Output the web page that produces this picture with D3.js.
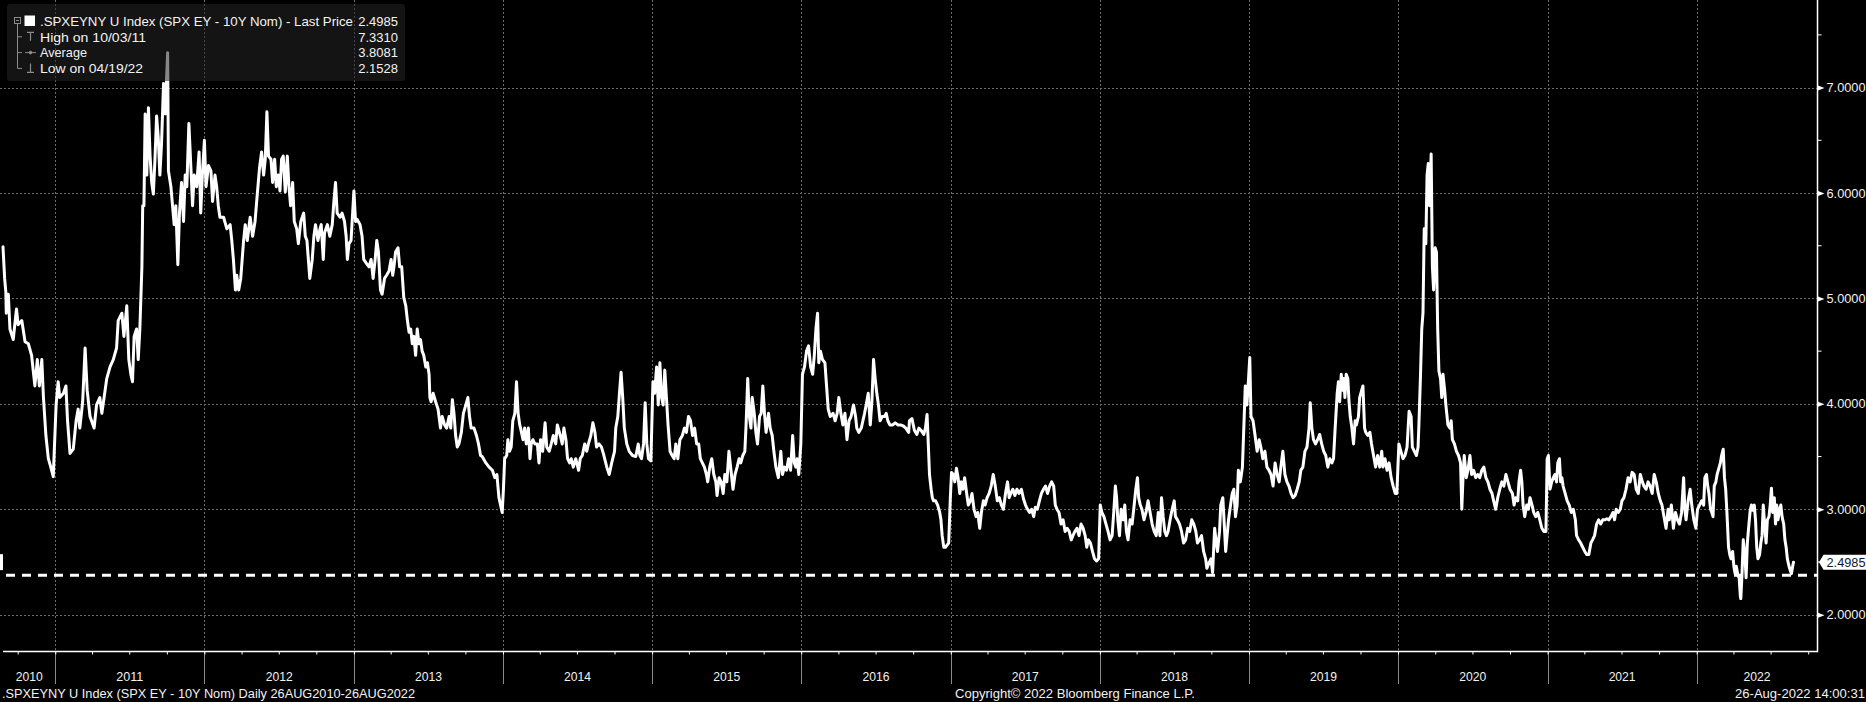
<!DOCTYPE html>
<html><head><meta charset="utf-8">
<script src="https://cdn.jsdelivr.net/npm/d3@7"></script>
<style>html,body{margin:0;padding:0;background:#000;overflow:hidden}svg{display:block}</style>
</head><body><svg id="c" width="1866" height="702"></svg>
<script>
const dates = [
"2010-08-26","2010-08-30","2010-09-02","2010-09-03","2010-09-08","2010-09-12","2010-09-20","2010-09-28","2010-10-02","2010-10-11","2010-10-19","2010-10-27","2010-11-04","2010-11-12","2010-11-18","2010-11-23","2010-11-29","2010-12-03","2010-12-09","2010-12-15","2010-12-21","2010-12-27",
"2011-01-03","2011-01-08","2011-01-12","2011-01-21","2011-01-27","2011-01-31","2011-02-06","2011-02-14","2011-02-21","2011-02-26","2011-03-02","2011-03-09","2011-03-15","2011-03-20","2011-03-27","2011-04-06","2011-04-12","2011-04-20","2011-04-25","2011-05-03","2011-05-07","2011-05-15","2011-05-23","2011-05-31","2011-06-04","2011-06-13","2011-06-18","2011-06-25","2011-06-30","2011-07-05","2011-07-09","2011-07-13","2011-07-19","2011-07-23","2011-07-27","2011-08-01","2011-08-03","2011-08-06","2011-08-09","2011-08-13","2011-08-17","2011-08-21","2011-08-25","2011-08-29","2011-09-02","2011-09-06","2011-09-10","2011-09-14","2011-09-18","2011-09-23","2011-09-27","2011-10-03","2011-10-05","2011-10-11","2011-10-15","2011-10-19","2011-10-23","2011-10-28","2011-11-01","2011-11-06","2011-11-11","2011-11-15","2011-11-19","2011-11-24","2011-11-29","2011-12-03","2011-12-07","2011-12-13","2011-12-19","2011-12-23","2011-12-27",
"2012-01-01","2012-01-05","2012-01-11","2012-01-17","2012-01-21","2012-01-27","2012-01-31","2012-02-04","2012-02-08","2012-02-17","2012-02-25","2012-03-04","2012-03-08","2012-03-12","2012-03-17","2012-03-20","2012-03-25","2012-03-30","2012-04-06","2012-04-10","2012-04-15","2012-04-22","2012-04-28","2012-05-04","2012-05-08","2012-05-15","2012-05-20","2012-05-25","2012-05-29","2012-06-02","2012-06-06","2012-06-12","2012-06-16","2012-06-21","2012-06-25","2012-06-30","2012-07-04","2012-07-08","2012-07-12","2012-07-17","2012-07-22","2012-07-26","2012-07-30","2012-08-04","2012-08-08","2012-08-14","2012-08-18","2012-08-24","2012-08-31","2012-09-04","2012-09-08","2012-09-15","2012-09-21","2012-09-25","2012-09-29","2012-10-05","2012-10-10","2012-10-13","2012-10-18","2012-10-21","2012-10-28","2012-11-03","2012-11-09","2012-11-13","2012-11-17","2012-11-21","2012-11-28","2012-12-03","2012-12-09","2012-12-13","2012-12-16","2012-12-20","2012-12-25",
"2013-01-01","2013-01-05","2013-01-09","2013-01-16","2013-01-21","2013-01-25","2013-02-01","2013-02-07","2013-02-12","2013-02-17","2013-02-22","2013-02-26","2013-03-02","2013-03-07","2013-03-11","2013-03-17","2013-03-22","2013-03-28","2013-04-02","2013-04-06","2013-04-09","2013-04-13","2013-04-19","2013-04-23","2013-04-28","2013-05-03","2013-05-08","2013-05-12","2013-05-16","2013-05-20","2013-05-24","2013-05-28","2013-06-01","2013-06-05","2013-06-09","2013-06-13","2013-06-17","2013-06-21","2013-06-26","2013-06-30","2013-07-04","2013-07-06","2013-07-09","2013-07-14","2013-07-20","2013-07-26","2013-08-01","2013-08-05","2013-08-11","2013-08-16","2013-08-22","2013-08-26","2013-08-30","2013-09-03","2013-09-07","2013-09-11","2013-09-15","2013-09-21","2013-09-26","2013-10-02","2013-10-07","2013-10-11","2013-10-15","2013-10-22","2013-10-28","2013-11-02","2013-11-07","2013-11-11","2013-11-20","2013-11-28","2013-12-06","2013-12-12","2013-12-17","2013-12-22","2013-12-26","2013-12-30",
"2014-01-02","2014-01-05","2014-01-10","2014-01-13","2014-01-17","2014-01-21","2014-01-25","2014-01-30","2014-02-03","2014-02-07","2014-02-11","2014-02-13","2014-02-19","2014-02-23","2014-02-27","2014-03-04","2014-03-08","2014-03-11","2014-03-15","2014-03-20","2014-03-26","2014-03-30","2014-04-03","2014-04-08","2014-04-14","2014-04-18","2014-04-24","2014-04-29","2014-05-04","2014-05-10","2014-05-14","2014-05-21","2014-05-26","2014-05-30","2014-06-04","2014-06-08","2014-06-13","2014-06-17","2014-06-22","2014-06-28","2014-07-05","2014-07-09","2014-07-14","2014-07-20","2014-07-25","2014-07-29","2014-08-04","2014-08-09","2014-08-14","2014-08-18","2014-08-24","2014-08-30","2014-09-05","2014-09-12","2014-09-18","2014-09-24","2014-10-01","2014-10-04","2014-10-09","2014-10-13","2014-10-17","2014-10-21","2014-10-25","2014-10-31","2014-11-06","2014-11-14","2014-11-22","2014-11-28","2014-12-02","2014-12-06","2014-12-11","2014-12-15","2014-12-19","2014-12-23","2014-12-29",
"2015-01-03","2015-01-07","2015-01-12","2015-01-16","2015-01-20","2015-01-24","2015-01-28","2015-02-01","2015-02-05","2015-02-09","2015-02-14","2015-02-19","2015-02-24","2015-02-28","2015-03-05","2015-03-10","2015-03-16","2015-03-21","2015-03-26","2015-03-31","2015-04-05","2015-04-10","2015-04-15","2015-04-20","2015-04-25","2015-04-29","2015-05-04","2015-05-09","2015-05-14","2015-05-17","2015-05-22","2015-05-27","2015-06-01","2015-06-06","2015-06-09","2015-06-14","2015-06-19","2015-06-24","2015-06-28","2015-07-03","2015-07-08","2015-07-13","2015-07-18","2015-07-23","2015-07-28","2015-08-02","2015-08-06","2015-08-11","2015-08-16","2015-08-19","2015-08-23","2015-08-27","2015-08-31","2015-09-03","2015-09-08","2015-09-12","2015-09-16","2015-09-21","2015-09-25","2015-09-29","2015-10-03","2015-10-07","2015-10-13","2015-10-17","2015-10-22","2015-10-26","2015-10-31","2015-11-06","2015-11-12","2015-11-16","2015-11-21","2015-11-26","2015-12-01","2015-12-06","2015-12-11","2015-12-15","2015-12-19","2015-12-22","2015-12-26","2015-12-31",
"2016-01-04","2016-01-09","2016-01-14","2016-01-19","2016-01-24","2016-01-29","2016-02-02","2016-02-06","2016-02-10","2016-02-13","2016-02-17","2016-02-22","2016-02-28","2016-03-03","2016-03-07","2016-03-12","2016-03-19","2016-03-24","2016-03-29","2016-04-02","2016-04-07","2016-04-12","2016-04-17","2016-04-22","2016-04-27","2016-05-02","2016-05-08","2016-05-13","2016-05-16","2016-05-21","2016-05-27","2016-05-31","2016-06-04","2016-06-08","2016-06-13","2016-06-18","2016-06-22","2016-06-26","2016-06-30","2016-07-04","2016-07-08","2016-07-12","2016-07-17","2016-07-23","2016-07-27","2016-07-31","2016-08-05","2016-08-12","2016-08-18","2016-08-25","2016-08-31","2016-09-07","2016-09-13","2016-09-20","2016-09-22","2016-09-28","2016-10-04","2016-10-10","2016-10-15","2016-10-20","2016-10-27","2016-10-31","2016-11-04","2016-11-07","2016-11-10","2016-11-14","2016-11-17","2016-11-20","2016-11-25","2016-11-30","2016-12-05","2016-12-08","2016-12-11","2016-12-15","2016-12-19","2016-12-23","2016-12-27","2016-12-31",
"2017-01-03","2017-01-07","2017-01-11","2017-01-15","2017-01-19","2017-01-23","2017-01-27","2017-01-31","2017-02-04","2017-02-09","2017-02-13","2017-02-18","2017-02-22","2017-02-27","2017-03-04","2017-03-08","2017-03-13","2017-03-17","2017-03-22","2017-03-26","2017-03-31","2017-04-05","2017-04-10","2017-04-15","2017-04-20","2017-04-25","2017-04-30","2017-05-05","2017-05-10","2017-05-15","2017-05-20","2017-05-24","2017-05-28","2017-06-02","2017-06-07","2017-06-12","2017-06-17","2017-06-23","2017-06-28","2017-07-03","2017-07-08","2017-07-13","2017-07-18","2017-07-23","2017-07-27","2017-08-01","2017-08-06","2017-08-11","2017-08-16","2017-08-21","2017-08-26","2017-08-31","2017-09-05","2017-09-10","2017-09-14","2017-09-18","2017-09-23","2017-09-28","2017-10-03","2017-10-08","2017-10-13","2017-10-18","2017-10-23","2017-10-27","2017-11-01","2017-11-06","2017-11-11","2017-11-16","2017-11-21","2017-11-26","2017-11-30","2017-12-04","2017-12-09","2017-12-14","2017-12-19","2017-12-24","2017-12-29",
"2018-01-02","2018-01-06","2018-01-11","2018-01-16","2018-01-21","2018-01-26","2018-01-31","2018-02-04","2018-02-08","2018-02-11","2018-02-14","2018-02-18","2018-02-22","2018-02-27","2018-03-03","2018-03-07","2018-03-11","2018-03-16","2018-03-21","2018-03-26","2018-03-30","2018-04-03","2018-04-06","2018-04-10","2018-04-14","2018-04-19","2018-04-24","2018-04-29","2018-05-04","2018-05-09","2018-05-14","2018-05-19","2018-05-24","2018-05-28","2018-06-01","2018-06-05","2018-06-09","2018-06-13","2018-06-17","2018-06-22","2018-06-27","2018-07-02","2018-07-05","2018-07-10","2018-07-15","2018-07-20","2018-07-25","2018-07-30","2018-08-04","2018-08-09","2018-08-14","2018-08-19","2018-08-24","2018-08-28","2018-09-02","2018-09-07","2018-09-12","2018-09-17","2018-09-20","2018-09-25","2018-09-30","2018-10-04","2018-10-09","2018-10-11","2018-10-16","2018-10-21","2018-10-24","2018-10-29","2018-11-01","2018-11-05","2018-11-12","2018-11-17","2018-11-21","2018-11-25","2018-11-29","2018-12-03","2018-12-06","2018-12-11","2018-12-16","2018-12-19","2018-12-23","2018-12-27","2018-12-31",
"2019-01-03","2019-01-06","2019-01-11","2019-01-16","2019-01-21","2019-01-26","2019-01-30","2019-02-04","2019-02-09","2019-02-14","2019-02-19","2019-02-24","2019-03-01","2019-03-06","2019-03-11","2019-03-16","2019-03-20","2019-03-25","2019-03-30","2019-04-04","2019-04-09","2019-04-14","2019-04-19","2019-04-24","2019-04-29","2019-05-04","2019-05-08","2019-05-13","2019-05-18","2019-05-23","2019-05-28","2019-05-31","2019-06-04","2019-06-08","2019-06-13","2019-06-18","2019-06-23","2019-06-28","2019-07-03","2019-07-08","2019-07-13","2019-07-18","2019-07-23","2019-07-27","2019-07-31","2019-08-05","2019-08-08","2019-08-11","2019-08-15","2019-08-18","2019-08-21","2019-08-24","2019-08-27","2019-08-31","2019-09-03","2019-09-06","2019-09-10","2019-09-14","2019-09-18","2019-09-21","2019-09-26","2019-09-29","2019-10-04","2019-10-07","2019-10-11","2019-10-14","2019-10-19","2019-10-24","2019-10-28","2019-11-02","2019-11-07","2019-11-12","2019-11-17","2019-11-22","2019-11-25","2019-11-30","2019-12-05","2019-12-10","2019-12-15","2019-12-20","2019-12-25","2019-12-29",
"2020-01-03","2020-01-08","2020-01-13","2020-01-18","2020-01-23","2020-01-28","2020-02-02","2020-02-05","2020-02-10","2020-02-15","2020-02-19","2020-02-21","2020-02-25","2020-02-28","2020-03-02","2020-03-05","2020-03-09","2020-03-12","2020-03-15","2020-03-18","2020-03-22","2020-03-25","2020-03-28","2020-04-01","2020-04-04","2020-04-07","2020-04-10","2020-04-14","2020-04-17","2020-04-20","2020-04-24","2020-04-27","2020-05-02","2020-05-07","2020-05-10","2020-05-13","2020-05-18","2020-05-23","2020-05-28","2020-06-02","2020-06-05","2020-06-08","2020-06-11","2020-06-16","2020-06-20","2020-06-25","2020-06-29","2020-07-04","2020-07-09","2020-07-14","2020-07-19","2020-07-24","2020-07-29","2020-08-03","2020-08-08","2020-08-13","2020-08-18","2020-08-22","2020-08-27","2020-09-01","2020-09-06","2020-09-11","2020-09-16","2020-09-21","2020-09-26","2020-10-01","2020-10-07","2020-10-11","2020-10-15","2020-10-20","2020-10-23","2020-10-27","2020-10-30","2020-11-02","2020-11-06","2020-11-11","2020-11-15","2020-11-19","2020-11-24","2020-11-28","2020-12-03","2020-12-08","2020-12-13","2020-12-18","2020-12-23","2020-12-28","2020-12-31",
"2021-01-03","2021-01-07","2021-01-11","2021-01-15","2021-01-19","2021-01-23","2021-01-26","2021-01-30","2021-02-02","2021-02-05","2021-02-08","2021-02-13","2021-02-18","2021-02-23","2021-02-28","2021-03-05","2021-03-10","2021-03-13","2021-03-18","2021-03-23","2021-03-28","2021-04-02","2021-04-07","2021-04-12","2021-04-17","2021-04-21","2021-04-26","2021-05-01","2021-05-06","2021-05-11","2021-05-16","2021-05-21","2021-05-26","2021-05-31","2021-06-05","2021-06-10","2021-06-14","2021-06-18","2021-06-23","2021-06-28","2021-07-02","2021-07-07","2021-07-12","2021-07-17","2021-07-22","2021-07-27","2021-08-01","2021-08-06","2021-08-11","2021-08-16","2021-08-21","2021-08-25","2021-08-30","2021-09-04","2021-09-09","2021-09-14","2021-09-19","2021-09-24","2021-09-29","2021-10-04","2021-10-08","2021-10-13","2021-10-18","2021-10-23","2021-10-26","2021-10-31","2021-11-05","2021-11-10","2021-11-15","2021-11-20","2021-11-25","2021-11-30","2021-12-03","2021-12-06","2021-12-11","2021-12-16","2021-12-20","2021-12-25","2021-12-30",
"2022-01-03","2022-01-08","2022-01-13","2022-01-18","2022-01-21","2022-01-25","2022-01-28","2022-01-31","2022-02-04","2022-02-07","2022-02-10","2022-02-13","2022-02-17","2022-02-20","2022-02-25","2022-02-28","2022-03-03","2022-03-07","2022-03-10","2022-03-13","2022-03-16","2022-03-20","2022-03-23","2022-03-26","2022-03-30","2022-04-02","2022-04-05","2022-04-08","2022-04-12","2022-04-15","2022-04-18","2022-04-19","2022-04-22","2022-04-25","2022-04-29","2022-05-02","2022-05-05","2022-05-08","2022-05-12","2022-05-15","2022-05-18","2022-05-22","2022-05-25","2022-05-28","2022-05-31","2022-06-04","2022-06-07","2022-06-10","2022-06-13","2022-06-17","2022-06-20","2022-06-23","2022-06-27","2022-06-30","2022-07-03","2022-07-06","2022-07-10","2022-07-13","2022-07-16","2022-07-19","2022-07-23","2022-07-26","2022-07-29","2022-08-02","2022-08-05","2022-08-08","2022-08-11","2022-08-15","2022-08-18","2022-08-21","2022-08-24","2022-08-26"
];
const values = [
5.49,5.19,5.06,4.86,5.04,4.71,4.61,4.90,4.75,4.79,4.59,4.57,4.46,4.17,4.42,4.17,4.42,4.06,3.70,3.48,3.40,3.31,
3.99,4.21,4.06,4.10,4.17,3.84,3.53,3.57,3.84,3.95,3.77,4.02,4.53,4.13,3.88,3.77,3.99,4.06,3.91,4.13,4.24,4.35,4.42,4.53,4.79,4.86,4.64,4.93,4.42,4.28,4.21,4.64,4.71,4.42,4.71,5.30,5.88,5.88,6.75,6.17,6.81,6.35,6.10,5.99,6.32,6.73,6.53,6.17,6.46,7.04,6.75,7.33,6.21,6.06,5.88,5.70,5.88,5.32,5.81,6.10,5.73,6.17,6.06,6.66,6.24,5.88,6.17,6.06,6.39,5.81,6.17,
6.50,6.06,6.26,6.21,5.92,6.17,6.06,5.88,5.77,5.77,5.66,5.70,5.55,5.37,5.08,5.22,5.08,5.19,5.55,5.70,5.55,5.77,5.59,5.73,5.92,6.24,6.39,6.17,6.32,6.77,6.35,6.32,6.10,6.32,6.06,6.17,6.02,6.32,6.35,6.01,6.35,6.06,5.88,6.10,5.73,5.66,5.52,5.73,5.81,5.59,5.55,5.19,5.37,5.59,5.70,5.55,5.66,5.70,5.37,5.62,5.70,5.59,5.70,5.92,6.10,5.81,5.77,5.81,5.73,5.59,5.37,5.52,5.55,
6.02,5.73,5.75,5.70,5.59,5.37,5.33,5.30,5.37,5.19,5.37,5.55,5.44,5.08,5.04,5.19,5.22,5.26,5.37,5.22,5.30,5.44,5.48,5.30,5.30,5.01,4.93,4.79,4.68,4.71,4.57,4.64,4.46,4.71,4.57,4.61,4.50,4.46,4.35,4.39,4.28,4.06,4.02,4.10,4.02,3.95,3.77,3.88,3.80,3.77,3.88,3.77,4.04,3.91,3.70,3.59,3.62,3.73,3.91,3.99,4.06,3.88,3.77,3.77,3.70,3.62,3.51,3.50,3.44,3.40,3.37,3.30,3.33,3.11,3.04,2.97,
3.19,3.48,3.51,3.66,3.55,3.59,3.84,3.91,4.21,3.91,3.80,3.77,3.66,3.77,3.62,3.77,3.48,3.62,3.66,3.62,3.62,3.44,3.66,3.55,3.82,3.59,3.55,3.62,3.70,3.62,3.80,3.70,3.62,3.77,3.66,3.48,3.44,3.48,3.40,3.48,3.37,3.48,3.51,3.62,3.55,3.62,3.70,3.82,3.73,3.59,3.62,3.59,3.51,3.40,3.33,3.44,3.55,3.77,3.88,4.10,4.30,4.06,3.77,3.62,3.55,3.51,3.50,3.62,3.51,3.48,3.62,4.01,3.62,3.48,3.46,
4.21,4.10,4.35,3.99,4.39,4.06,3.99,4.32,4.06,3.80,3.55,3.51,3.48,3.62,3.48,3.66,3.70,3.77,3.73,3.88,3.84,3.70,3.77,3.62,3.62,3.48,3.44,3.40,3.33,3.26,3.40,3.48,3.33,3.26,3.13,3.30,3.26,3.15,3.33,3.26,3.55,3.37,3.19,3.33,3.40,3.48,3.44,3.51,3.55,3.80,4.24,3.88,3.77,4.06,3.91,3.73,3.62,3.88,3.91,4.17,3.91,3.73,3.91,3.77,3.70,3.55,3.40,3.30,3.55,3.33,3.40,3.37,3.48,3.37,3.70,3.44,3.40,3.48,3.33,3.62,
4.28,4.35,4.50,4.55,4.35,4.28,4.46,4.71,4.86,4.39,4.50,4.42,4.39,4.17,3.95,3.88,3.91,3.84,3.91,4.06,3.91,3.80,3.91,3.66,3.84,3.88,3.99,3.88,3.77,3.73,3.77,3.84,3.91,3.99,4.10,3.80,4.02,4.42,4.24,4.10,3.99,3.84,3.88,3.88,3.91,3.84,3.80,3.80,3.82,3.80,3.80,3.79,3.77,3.73,3.84,3.86,3.75,3.71,3.77,3.75,3.71,3.77,3.90,3.62,3.33,3.19,3.11,3.08,3.08,3.04,2.97,2.90,2.75,2.64,2.64,2.66,2.68,3.11,
3.35,3.33,3.26,3.39,3.30,3.15,3.26,3.19,3.30,3.15,3.04,3.08,3.15,3.00,2.93,2.97,2.82,2.97,3.08,3.04,3.11,3.15,3.22,3.33,3.22,3.08,3.11,3.04,3.00,3.15,3.26,3.11,3.15,3.19,3.13,3.19,3.15,3.19,3.10,3.04,3.00,2.97,3.00,2.93,3.02,3.00,3.08,3.15,3.19,3.22,3.15,3.22,3.26,3.22,3.04,3.00,2.97,2.86,2.90,2.79,2.82,2.79,2.71,2.75,2.79,2.82,2.75,2.86,2.82,2.75,2.64,2.71,2.68,2.60,2.53,2.51,2.53,
3.04,2.97,2.93,2.86,2.79,2.71,2.75,2.97,3.22,3.11,2.90,2.75,3.00,2.90,3.04,2.79,2.71,2.90,2.86,3.04,3.19,3.30,3.11,3.04,3.00,2.90,2.97,3.08,2.97,2.86,2.79,2.75,2.97,2.75,3.11,2.93,2.79,2.75,2.79,2.90,3.00,3.08,2.93,2.90,2.86,2.79,2.68,2.71,2.82,2.79,2.90,2.86,2.79,2.68,2.71,2.75,2.60,2.53,2.44,2.49,2.53,2.40,2.82,2.75,2.60,2.79,3.04,3.11,2.90,2.60,2.90,3.04,3.15,3.19,2.93,3.04,3.37,3.26,3.40,3.73,4.17,3.99,4.24,
4.44,3.88,3.84,3.70,3.55,3.66,3.59,3.48,3.55,3.40,3.37,3.33,3.22,3.44,3.33,3.26,3.40,3.55,3.33,3.26,3.22,3.15,3.11,3.13,3.19,3.26,3.37,3.40,3.55,3.59,3.77,4.01,3.77,3.66,3.62,3.66,3.71,3.62,3.55,3.51,3.40,3.48,3.44,3.48,3.77,4.10,4.21,4.02,4.28,4.13,4.24,4.06,4.28,4.24,4.02,3.88,3.77,3.62,3.84,3.80,3.88,4.06,4.13,4.17,3.77,3.73,3.70,3.73,3.62,3.51,3.40,3.51,3.40,3.55,3.40,3.48,3.37,3.44,3.30,3.22,3.15,3.15,
3.62,3.55,3.48,3.51,3.59,3.93,3.88,3.59,3.55,3.51,3.59,3.80,4.28,4.71,4.86,5.66,5.52,6.17,6.28,5.88,6.37,5.30,5.08,5.48,5.44,4.71,4.31,4.24,4.06,4.28,4.13,3.99,3.80,3.77,3.84,3.66,3.62,3.55,3.51,3.44,3.00,3.30,3.51,3.30,3.37,3.51,3.33,3.37,3.30,3.33,3.30,3.37,3.40,3.30,3.26,3.19,3.15,3.08,3.00,3.11,3.19,3.26,3.22,3.33,3.26,3.19,3.15,3.04,3.11,3.08,3.26,3.37,3.26,3.04,2.93,3.04,3.00,3.11,3.04,2.97,2.93,2.97,2.90,2.82,2.79,2.79,3.48,
3.51,3.19,3.26,3.30,3.33,3.26,3.44,3.48,3.26,3.30,3.22,3.15,3.08,3.04,2.97,3.00,2.90,2.75,2.71,2.68,2.64,2.60,2.57,2.57,2.68,2.71,2.75,2.86,2.90,2.86,2.90,2.90,2.91,2.90,2.93,2.97,2.90,3.00,2.97,3.00,3.08,3.11,3.19,3.30,3.26,3.35,3.33,3.19,3.15,3.33,3.26,3.22,3.19,3.26,3.22,3.15,3.33,3.26,3.15,3.08,3.04,2.93,2.82,3.00,2.90,3.04,2.82,2.97,2.90,2.86,2.97,3.30,3.00,2.90,3.08,3.19,3.04,2.90,2.82,
3.00,3.04,3.08,3.04,3.30,3.33,3.22,3.15,3.00,2.97,2.93,3.22,3.26,3.33,3.40,3.44,3.51,3.57,3.30,3.19,2.97,2.64,2.57,2.53,2.60,2.46,2.39,2.46,2.37,2.35,2.17,2.1528,2.39,2.71,2.57,2.35,2.68,2.82,2.99,3.04,2.99,3.04,2.90,2.64,2.53,2.57,2.68,2.75,3.04,2.82,2.68,2.90,2.93,3.04,3.20,2.97,3.11,2.86,3.04,2.90,3.00,3.04,2.93,2.86,2.71,2.64,2.53,2.46,2.42,2.39,2.46,2.4985
];
const yTicks = [2, 3, 4, 5, 6, 7];
const yMinorTicks = [2.5, 3.5, 4.5, 5.5, 6.5, 7.5];
const yearLabels = ["2010","2011","2012","2013","2014","2015","2016","2017","2018","2019","2020","2021","2022"];
const legendLabels = [".SPXEYNY U Index (SPX EY - 10Y Nom) - Last Price", "High on 10/03/11", "Average", "Low on 04/19/22"];
const legendValues = ["2.4985", "7.3310", "3.8081", "2.1528"];
const lastPrice = 2.4985;
const refLevel = 2.375;
const startDate = "2010-08-26", endDate = "2022-08-26";
const footerLeft = ".SPXEYNY U Index (SPX EY - 10Y Nom)  Daily 26AUG2010-26AUG2022";
const footerCenter = "Copyright\u00A9 2022 Bloomberg Finance L.P.";
const footerRight = "26-Aug-2022 14:00:31";

const parse = d3.timeParse("%Y-%m-%d");
const data = dates.map((d, i) => ({date: parse(d), value: values[i]}));

const W = 1866, H = 702;
const axisX = 1817.5, axisY = 651.5;
const FONT = "'Liberation Sans', Arial, sans-serif";
const svg = d3.select("#c");
svg.append("rect").attr("width", W).attr("height", H).attr("fill", "#000");

const x = d3.scaleTime().domain([parse(startDate), parse(endDate)]).range([3, 1793.5]);
const y = d3.scaleLinear().domain([2, 7]).range([614.7, 87.6]);

const grid = svg.append("g");
const yearStarts = d3.timeYear.range(new Date(2011, 0, 1), new Date(2023, 0, 1));
grid.selectAll("line.h").data(yTicks).join("line")
  .attr("x1", 0).attr("x2", axisX).attr("y1", d => Math.round(y(d)) + 0.5).attr("y2", d => Math.round(y(d)) + 0.5)
  .attr("stroke", "#6a6a6a").attr("stroke-width", 1).attr("stroke-dasharray", "2,2");
grid.selectAll("line.v").data(yearStarts).join("line")
  .attr("x1", d => Math.round(x(d)) + 0.5).attr("x2", d => Math.round(x(d)) + 0.5)
  .attr("y1", 0).attr("y2", axisY)
  .attr("stroke", "#6a6a6a").attr("stroke-width", 1).attr("stroke-dasharray", "2,2");
grid.selectAll("line.s").data(yearStarts).join("line")
  .attr("x1", d => Math.round(x(d)) + 0.5).attr("x2", d => Math.round(x(d)) + 0.5)
  .attr("y1", axisY).attr("y2", 684)
  .attr("stroke", "#8a8a8a").attr("stroke-width", 1);

svg.append("line").attr("x1", 6).attr("x2", axisX).attr("y1", y(refLevel)).attr("y2", y(refLevel))
  .attr("stroke", "#fff").attr("stroke-width", 3).attr("stroke-dasharray", "9,7");

const line = d3.line().x(d => x(d.date)).y(d => y(d.value));
svg.append("path").datum(data).attr("d", line)
  .attr("fill", "none").attr("stroke", "#fff").attr("stroke-width", 3)
  .attr("stroke-linejoin", "round").attr("stroke-linecap", "round");

svg.append("rect").attr("x", 0).attr("y", y(lastPrice) - 8).attr("width", 3).attr("height", 16).attr("fill", "#fff");

const quarters = d3.timeMonth.every(3).range(new Date(2010, 9, 1), new Date(2022, 10, 2));
const xAxis = d3.axisBottom(x).tickValues(quarters).tickSize(3).tickFormat("");
const gx = svg.append("g").attr("transform", `translate(0,${axisY})`).call(xAxis);
gx.select(".domain").remove();
gx.selectAll(".tick line").attr("stroke", "#fff");
svg.append("line").attr("x1", 3).attr("x2", axisX).attr("y1", axisY).attr("y2", axisY).attr("stroke", "#fff").attr("stroke-width", 1.5);

const yAxis = d3.axisRight(y).tickValues(yTicks).tickSize(0).tickPadding(9).tickFormat(d3.format(".4f"));
const gy = svg.append("g").attr("transform", `translate(${axisX},0)`).call(yAxis);
gy.select(".domain").remove();
gy.selectAll(".tick text").attr("fill", "#f2f2f2").attr("font-family", FONT).attr("font-size", 12.5)
  .attr("textLength", 39).attr("lengthAdjust", "spacingAndGlyphs");
gy.selectAll(".tick").append("path").attr("d", "M0.5,-2.5 L7,0 L0.5,2.5 Z").attr("fill", "#fff");
svg.append("g").selectAll("line").data(yMinorTicks).join("line")
  .attr("x1", axisX).attr("x2", axisX + 4).attr("y1", d => y(d)).attr("y2", d => y(d))
  .attr("stroke", "#fff").attr("stroke-width", 1);
svg.append("line").attr("x1", axisX).attr("x2", axisX).attr("y1", 0).attr("y2", axisY + 0.75).attr("stroke", "#fff").attr("stroke-width", 1.5);

const ly = y(lastPrice);
svg.append("path").attr("d", `M${axisX + 1.5},${ly} L${axisX + 6},${ly - 7.5} L${W},${ly - 7.5} L${W},${ly + 7.5} L${axisX + 6},${ly + 7.5} Z`).attr("fill", "#fff");
svg.append("text").attr("x", axisX + 9).attr("y", ly + 4.5).text(d3.format(".4f")(lastPrice))
  .attr("fill", "#0c1a33").attr("font-family", FONT).attr("font-size", 12.5)
  .attr("textLength", 39).attr("lengthAdjust", "spacingAndGlyphs");

const bounds = [x.range()[0], ...yearStarts.map(d => x(d)), axisX];
svg.append("g").selectAll("text").data(yearLabels).join("text")
  .attr("x", (d, i) => (bounds[i] + bounds[i + 1]) / 2).attr("y", 680.5)
  .attr("text-anchor", "middle").text(d => d)
  .attr("fill", "#f2f2f2").attr("font-family", FONT).attr("font-size", 13)
  .attr("textLength", 27).attr("lengthAdjust", "spacingAndGlyphs");

const foot = svg.append("g").attr("fill", "#f2f2f2").attr("font-family", FONT).attr("font-size", 12.5);
foot.append("text").attr("x", 2).attr("y", 697.5).text(footerLeft).attr("textLength", 413).attr("lengthAdjust", "spacingAndGlyphs");
foot.append("text").attr("x", 955).attr("y", 697.5).text(footerCenter).attr("textLength", 240).attr("lengthAdjust", "spacingAndGlyphs");
foot.append("text").attr("x", 1735).attr("y", 697.5).text(footerRight).attr("textLength", 130).attr("lengthAdjust", "spacingAndGlyphs");

const lg = svg.append("g");
lg.append("rect").attr("x", 7).attr("y", 4).attr("width", 398).attr("height", 77).attr("rx", 3)
  .attr("fill", "rgb(37,37,37)").attr("fill-opacity", 0.55);
const rowY = [21, 36.8, 52.6, 68.4];
const icon = "#8c8c8c";
lg.append("rect").attr("x", 14.5).attr("y", 17.5).attr("width", 6).attr("height", 6).attr("fill", "none").attr("stroke", icon).attr("stroke-width", 1);
lg.append("line").attr("x1", 16).attr("x2", 19).attr("y1", 20.5).attr("y2", 20.5).attr("stroke", icon);
lg.append("path").attr("d", `M17.5,24 V${rowY[3]} H22 M17.5,${rowY[1]} H22 M17.5,${rowY[2]} H22`).attr("fill", "none").attr("stroke", icon).attr("stroke-width", 1);
lg.append("rect").attr("x", 24.5).attr("y", 15.5).attr("width", 10.5).attr("height", 10.5).attr("fill", "#fff");
lg.append("path").attr("d", `M27,${rowY[1] - 4.5} H34 M30.5,${rowY[1] - 4.5} V${rowY[1] + 4}`).attr("stroke", icon).attr("stroke-width", 1.2).attr("fill", "none");
lg.append("path").attr("d", `M25,${rowY[2]} H36`).attr("stroke", icon).attr("stroke-width", 1);
lg.append("circle").attr("cx", 30.5).attr("cy", rowY[2]).attr("r", 1.8).attr("fill", icon);
lg.append("path").attr("d", `M30.5,${rowY[3] - 5} V${rowY[3] + 4} M27,${rowY[3] + 4} H34`).attr("stroke", icon).attr("stroke-width", 1.2).attr("fill", "none");
const labelLens = [313, 106, 47, 103];
lg.selectAll("text.l").data(legendLabels).join("text")
  .attr("x", 40).attr("y", (d, i) => rowY[i] + 4.7).text(d => d)
  .attr("fill", "#f2f2f2").attr("font-family", FONT).attr("font-size", 13)
  .attr("textLength", (d, i) => labelLens[i]).attr("lengthAdjust", "spacingAndGlyphs");
lg.selectAll("text.v").data(legendValues).join("text")
  .attr("x", 398).attr("y", (d, i) => rowY[i] + 4.7).attr("text-anchor", "end").text(d => d)
  .attr("fill", "#f2f2f2").attr("font-family", FONT).attr("font-size", 13);
</script>
</body></html>
